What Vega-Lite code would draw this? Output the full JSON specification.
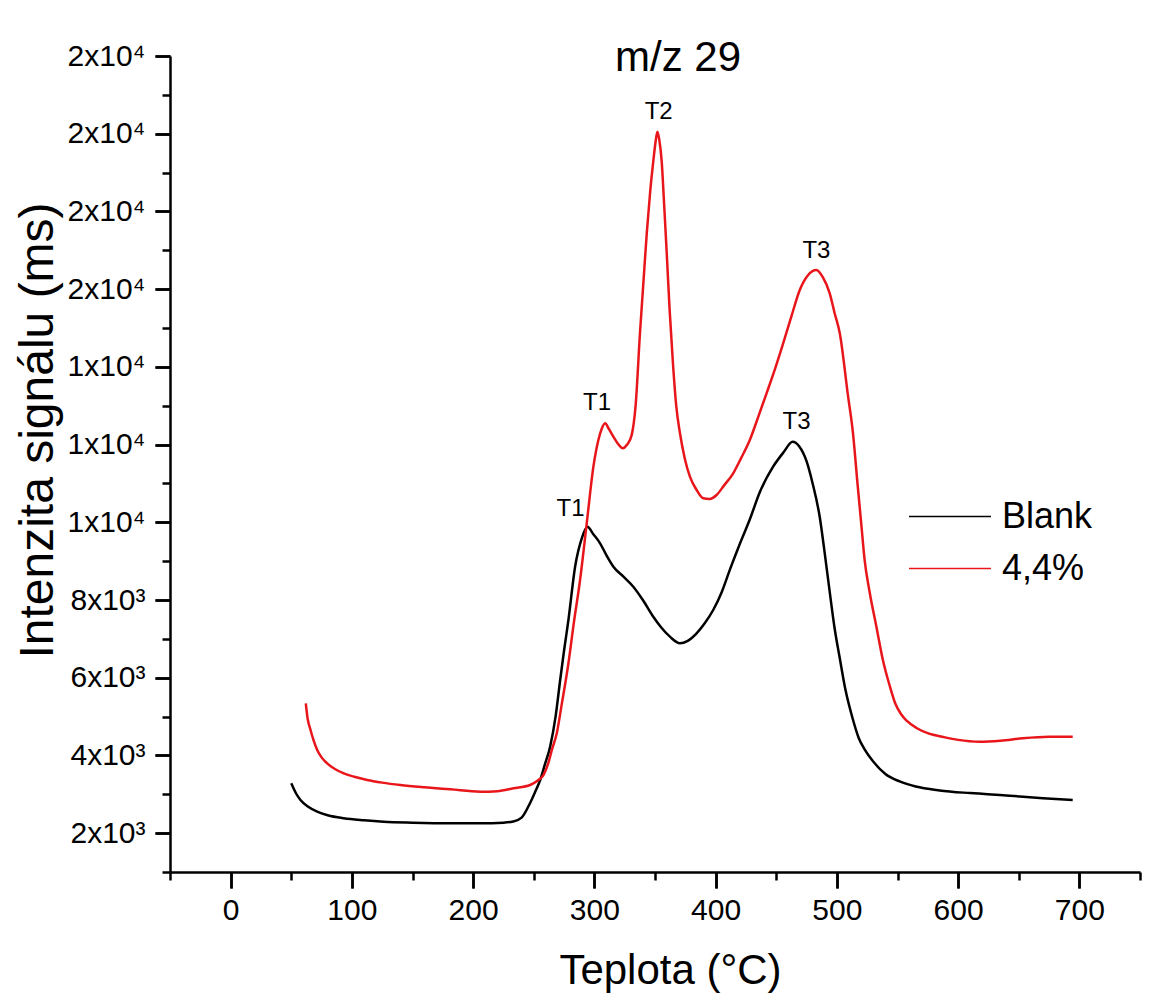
{
  "$schema": "https://vega.github.io/schema/vega-lite/v6.json",
  "width": 970,
  "height": 816,
  "autosize": {"type": "none"},
  "padding": {"left": 170, "top": 56, "right": 23, "bottom": 128},
  "background": "white",
  "config": {
    "view": {"stroke": null},
    "font": "Liberation Sans",
    "axis": {
      "domainColor": "#000000",
      "domainWidth": 2.5,
      "tickColor": "#000000",
      "tickWidth": 2.5,
      "labelColor": "#000000",
      "titleColor": "#000000",
      "labelFont": "Liberation Sans",
      "titleFont": "Liberation Sans",
      "titleFontWeight": "normal",
      "grid": false,
      "labelOverlap": false,
      "labelBound": false,
      "labelFlush": false
    }
  },
  "datasets": {
    "curves": [
      {"s": "Blank", "x": 50, "y": 3283}, {"s": "Blank", "x": 54, "y": 3020}, {"s": "Blank", "x": 57.6, "y": 2853}, {"s": "Blank", "x": 64, "y": 2680}, {"s": "Blank", "x": 71.4, "y": 2552}, {"s": "Blank", "x": 80, "y": 2460}, {"s": "Blank", "x": 93.3, "y": 2382}, {"s": "Blank", "x": 110, "y": 2330}, {"s": "Blank", "x": 126.2, "y": 2294}, {"s": "Blank", "x": 150, "y": 2270}, {"s": "Blank", "x": 181.2, "y": 2253}, {"s": "Blank", "x": 206, "y": 2252}, {"s": "Blank", "x": 225, "y": 2270}, {"s": "Blank", "x": 233, "y": 2300}, {"s": "Blank", "x": 240, "y": 2400}, {"s": "Blank", "x": 247, "y": 2776}, {"s": "Blank", "x": 251, "y": 3050}, {"s": "Blank", "x": 255.3, "y": 3368}, {"s": "Blank", "x": 259, "y": 3750}, {"s": "Blank", "x": 263.5, "y": 4225}, {"s": "Blank", "x": 268, "y": 5000}, {"s": "Blank", "x": 271.8, "y": 5941}, {"s": "Blank", "x": 275, "y": 6700}, {"s": "Blank", "x": 278.6, "y": 7485}, {"s": "Blank", "x": 284.1, "y": 8857}, {"s": "Blank", "x": 289.6, "y": 9588}, {"s": "Blank", "x": 294.3, "y": 9887}, {"s": "Blank", "x": 299, "y": 9700}, {"s": "Blank", "x": 304.7, "y": 9459}, {"s": "Blank", "x": 310, "y": 9150}, {"s": "Blank", "x": 315.7, "y": 8857}, {"s": "Blank", "x": 324, "y": 8600}, {"s": "Blank", "x": 332.1, "y": 8342}, {"s": "Blank", "x": 340, "y": 8000}, {"s": "Blank", "x": 348.6, "y": 7570}, {"s": "Blank", "x": 355, "y": 7300}, {"s": "Blank", "x": 362.3, "y": 7056}, {"s": "Blank", "x": 370.6, "y": 6885}, {"s": "Blank", "x": 377, "y": 6950}, {"s": "Blank", "x": 384.3, "y": 7143}, {"s": "Blank", "x": 391, "y": 7400}, {"s": "Blank", "x": 398, "y": 7742}, {"s": "Blank", "x": 405, "y": 8200}, {"s": "Blank", "x": 412, "y": 8800}, {"s": "Blank", "x": 420, "y": 9449}, {"s": "Blank", "x": 428, "y": 10059}, {"s": "Blank", "x": 436.5, "y": 10780}, {"s": "Blank", "x": 447.4, "y": 11431}, {"s": "Blank", "x": 456, "y": 11800}, {"s": "Blank", "x": 463.5, "y": 12070}, {"s": "Blank", "x": 469, "y": 11950}, {"s": "Blank", "x": 474.9, "y": 11580}, {"s": "Blank", "x": 480, "y": 11000}, {"s": "Blank", "x": 485.9, "y": 10130}, {"s": "Blank", "x": 490, "y": 9200}, {"s": "Blank", "x": 494.1, "y": 8208}, {"s": "Blank", "x": 498, "y": 7300}, {"s": "Blank", "x": 502.4, "y": 6500}, {"s": "Blank", "x": 507, "y": 5700}, {"s": "Blank", "x": 513, "y": 4950}, {"s": "Blank", "x": 518, "y": 4450}, {"s": "Blank", "x": 523, "y": 4150}, {"s": "Blank", "x": 529.8, "y": 3850}, {"s": "Blank", "x": 540, "y": 3520}, {"s": "Blank", "x": 551.8, "y": 3330}, {"s": "Blank", "x": 565, "y": 3200}, {"s": "Blank", "x": 584.7, "y": 3100}, {"s": "Blank", "x": 610, "y": 3030}, {"s": "Blank", "x": 639.6, "y": 2970}, {"s": "Blank", "x": 670, "y": 2900}, {"s": "Blank", "x": 694.5, "y": 2853},
      {"s": "4,4%", "x": 62, "y": 5342}, {"s": "4,4%", "x": 63.5, "y": 4950}, {"s": "4,4%", "x": 65.9, "y": 4654}, {"s": "4,4%", "x": 68.5, "y": 4380}, {"s": "4,4%", "x": 71.4, "y": 4140}, {"s": "4,4%", "x": 75, "y": 3950}, {"s": "4,4%", "x": 79.6, "y": 3797}, {"s": "4,4%", "x": 86, "y": 3650}, {"s": "4,4%", "x": 93.3, "y": 3540}, {"s": "4,4%", "x": 102, "y": 3450}, {"s": "4,4%", "x": 112.6, "y": 3368}, {"s": "4,4%", "x": 125, "y": 3300}, {"s": "4,4%", "x": 140, "y": 3239}, {"s": "4,4%", "x": 160, "y": 3180}, {"s": "4,4%", "x": 181.2, "y": 3128}, {"s": "4,4%", "x": 205.9, "y": 3067}, {"s": "4,4%", "x": 220, "y": 3080}, {"s": "4,4%", "x": 233.3, "y": 3153}, {"s": "4,4%", "x": 247, "y": 3239}, {"s": "4,4%", "x": 253, "y": 3350}, {"s": "4,4%", "x": 258, "y": 3496}, {"s": "4,4%", "x": 262, "y": 3800}, {"s": "4,4%", "x": 265, "y": 4150}, {"s": "4,4%", "x": 269, "y": 4569}, {"s": "4,4%", "x": 273, "y": 5300}, {"s": "4,4%", "x": 278.6, "y": 6371}, {"s": "4,4%", "x": 283, "y": 7400}, {"s": "4,4%", "x": 288.2, "y": 8515}, {"s": "4,4%", "x": 293.7, "y": 9973}, {"s": "4,4%", "x": 299.2, "y": 11431}, {"s": "4,4%", "x": 303.3, "y": 12117}, {"s": "4,4%", "x": 306, "y": 12400}, {"s": "4,4%", "x": 308.8, "y": 12547}, {"s": "4,4%", "x": 312, "y": 12400}, {"s": "4,4%", "x": 315.7, "y": 12203}, {"s": "4,4%", "x": 320, "y": 12000}, {"s": "4,4%", "x": 323.5, "y": 11904}, {"s": "4,4%", "x": 327, "y": 12000}, {"s": "4,4%", "x": 330.8, "y": 12250}, {"s": "4,4%", "x": 334, "y": 13000}, {"s": "4,4%", "x": 337.6, "y": 14864}, {"s": "4,4%", "x": 340.5, "y": 16200}, {"s": "4,4%", "x": 343.2, "y": 17437}, {"s": "4,4%", "x": 346, "y": 18500}, {"s": "4,4%", "x": 348.6, "y": 19294}, {"s": "4,4%", "x": 350.5, "y": 19800}, {"s": "4,4%", "x": 352, "y": 20050}, {"s": "4,4%", "x": 353.5, "y": 19850}, {"s": "4,4%", "x": 355.5, "y": 19294}, {"s": "4,4%", "x": 357.5, "y": 18200}, {"s": "4,4%", "x": 359.6, "y": 16974}, {"s": "4,4%", "x": 362, "y": 15500}, {"s": "4,4%", "x": 365, "y": 13996}, {"s": "4,4%", "x": 367.5, "y": 13000}, {"s": "4,4%", "x": 370.6, "y": 12290}, {"s": "4,4%", "x": 374.5, "y": 11650}, {"s": "4,4%", "x": 378.8, "y": 11173}, {"s": "4,4%", "x": 384, "y": 10850}, {"s": "4,4%", "x": 389.8, "y": 10617}, {"s": "4,4%", "x": 395, "y": 10600}, {"s": "4,4%", "x": 400.8, "y": 10702}, {"s": "4,4%", "x": 407, "y": 10950}, {"s": "4,4%", "x": 414.5, "y": 11260}, {"s": "4,4%", "x": 421, "y": 11650}, {"s": "4,4%", "x": 428.2, "y": 12117}, {"s": "4,4%", "x": 435, "y": 12700}, {"s": "4,4%", "x": 442, "y": 13319}, {"s": "4,4%", "x": 449, "y": 13950}, {"s": "4,4%", "x": 455.7, "y": 14606}, {"s": "4,4%", "x": 462.5, "y": 15300}, {"s": "4,4%", "x": 469.4, "y": 15978}, {"s": "4,4%", "x": 476, "y": 16350}, {"s": "4,4%", "x": 483.1, "y": 16492}, {"s": "4,4%", "x": 488.5, "y": 16300}, {"s": "4,4%", "x": 494.1, "y": 15892}, {"s": "4,4%", "x": 498, "y": 15400}, {"s": "4,4%", "x": 502.4, "y": 14864}, {"s": "4,4%", "x": 509, "y": 13300}, {"s": "4,4%", "x": 513.3, "y": 12290}, {"s": "4,4%", "x": 517, "y": 11000}, {"s": "4,4%", "x": 520, "y": 10000}, {"s": "4,4%", "x": 522.9, "y": 9029}, {"s": "4,4%", "x": 527, "y": 8208}, {"s": "4,4%", "x": 532.6, "y": 7313}, {"s": "4,4%", "x": 538, "y": 6450}, {"s": "4,4%", "x": 543.5, "y": 5800}, {"s": "4,4%", "x": 548, "y": 5350}, {"s": "4,4%", "x": 553, "y": 5060}, {"s": "4,4%", "x": 558, "y": 4880}, {"s": "4,4%", "x": 566, "y": 4700}, {"s": "4,4%", "x": 576, "y": 4560}, {"s": "4,4%", "x": 587, "y": 4480}, {"s": "4,4%", "x": 600, "y": 4400}, {"s": "4,4%", "x": 617.6, "y": 4353}, {"s": "4,4%", "x": 635, "y": 4380}, {"s": "4,4%", "x": 653.3, "y": 4441}, {"s": "4,4%", "x": 675, "y": 4480}, {"s": "4,4%", "x": 694.5, "y": 4482}
    ],
    "labels": [
      {"t": "T1", "x": 280.4, "y": 10342, "size": 24},
      {"t": "T1", "x": 302.2, "y": 13070, "size": 24},
      {"t": "T2", "x": 353, "y": 20559, "size": 24},
      {"t": "T3", "x": 466.7, "y": 12581, "size": 24},
      {"t": "T3", "x": 483.1, "y": 16981, "size": 24},
      {"t": "m/z 29", "x": 369, "y": 21948, "size": 42}
    ]
  },
  "resolve": {
    "scale": {"x": "shared", "y": "shared"},
    "axis": {"x": "independent", "y": "independent"}
  },
  "layer": [
    {
      "data": {"name": "curves"},
      "mark": {"type": "line", "strokeWidth": 2.5, "interpolate": "monotone"},
      "encoding": {
        "x": {
          "field": "x", "type": "quantitative",
          "scale": {"domain": [-50, 750], "nice": false, "zero": false},
          "axis": {
            "orient": "bottom",
            "values": [0, 100, 200, 300, 400, 500, 600, 700],
            "tickSize": 16,
            "labelFontSize": 30,
            "labelPadding": 7,
            "title": "Teplota (°C)",
            "titleFontSize": 42,
            "titleX": 500,
            "titleY": 98,
            "titleAlign": "center",
            "titleBaseline": "middle"
          }
        },
        "y": {
          "field": "y", "type": "quantitative",
          "scale": {"domain": [1000, 22000], "nice": false, "zero": false},
          "axis": {
            "orient": "left",
            "values": [2000, 4000, 6000, 8000, 10000, 12000, 14000, 16000, 18000, 20000, 22000],
            "labelExpr": "datum.value < 10000 ? (datum.value / 1000) + 'x10³' : round(datum.value / 10000) + 'x10⁴'",
            "tickSize": 15,
            "labelFontSize": 30,
            "labelPadding": 10,
            "title": "Intenzita signálu (ms)",
            "titleFontSize": 48,
            "titleAngle": 270,
            "titleX": -132,
            "titleY": 374,
            "titleAlign": "center",
            "titleBaseline": "middle"
          }
        },
        "color": {
          "field": "s", "type": "nominal",
          "scale": {"domain": ["Blank", "4,4%"], "range": ["#000000", "#e8161b"]},
          "legend": {
            "title": null,
            "orient": "none",
            "legendX": 738,
            "legendY": 439,
            "symbolType": "M-1,0H3",
            "symbolSize": 1681,
            "symbolStrokeWidth": 1.5,
            "labelFontSize": 36,
            "labelFont": "Liberation Sans",
            "labelColor": "#000000",
            "labelOffset": 51,
            "rowPadding": 12
          }
        }
      }
    },
    {
      "data": {"name": "labels"},
      "mark": {"type": "text", "color": "#000000", "align": "center", "baseline": "middle"},
      "encoding": {
        "x": {
          "field": "x", "type": "quantitative",
          "axis": {
            "orient": "bottom",
            "values": [-50, 50, 150, 250, 350, 450, 550, 650, 750],
            "tickSize": 8,
            "labels": false,
            "domain": false,
            "title": null
          }
        },
        "y": {
          "field": "y", "type": "quantitative",
          "axis": {
            "orient": "left",
            "values": [1000, 3000, 5000, 7000, 9000, 11000, 13000, 15000, 17000, 19000, 21000],
            "tickSize": 8,
            "labels": false,
            "domain": false,
            "title": null
          }
        },
        "text": {"field": "t"},
        "size": {"field": "size", "type": "quantitative", "scale": null}
      }
    },
    {
      "data": {"name": "labels"},
      "mark": {"type": "point", "opacity": 0},
      "encoding": {
        "x": {
          "field": "x", "type": "quantitative",
          "axis": {
            "orient": "bottom",
            "values": [0, 100, 200, 300, 400, 500, 600, 700],
            "tickSize": 16,
            "labels": false,
            "domain": false,
            "title": null
          }
        },
        "y": {
          "field": "y", "type": "quantitative",
          "axis": {
            "orient": "left",
            "values": [2000, 4000, 6000, 8000, 10000, 12000, 14000, 16000, 18000, 20000, 22000],
            "tickSize": 15,
            "labels": false,
            "domain": false,
            "title": null
          }
        }
      }
    }
  ]
}
